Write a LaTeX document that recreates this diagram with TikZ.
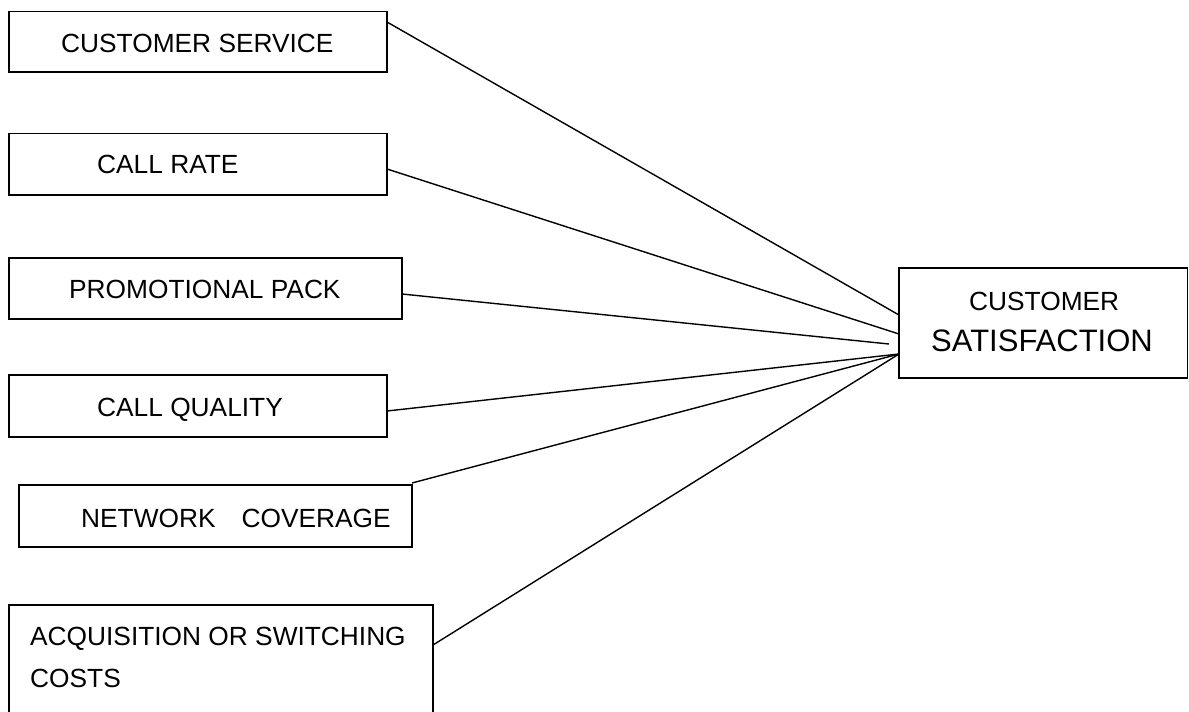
\documentclass[tikz,border=0pt]{standalone}
\usepackage{fontspec}
\setmainfont{Liberation Sans}
\begin{document}
\begin{tikzpicture}[x=1pt,y=-1pt,
  boxline/.style={draw=black,line width=1.7pt,inner sep=0pt},
  link/.style={draw=black,line width=1.4pt},
  lbl/.style={anchor=base west,inner sep=0pt,font=\fontsize{26.3}{30}\selectfont},
  biglbl/.style={anchor=base west,inner sep=0pt,font=\fontsize{31}{36}\selectfont}]
\useasboundingbox (0,0) rectangle (1189,712);
\clip (0,0) rectangle (1189,712);
% boxes
\node[boxline,minimum width=378pt,minimum height=60.5pt] (b1) at (198,41.75) {};
\node[boxline,minimum width=378pt,minimum height=61.5pt] (b2) at (198,164.25) {};
\node[boxline,minimum width=393pt,minimum height=61pt] (b3) at (205.5,288.5) {};
\node[boxline,minimum width=378pt,minimum height=62pt] (b4) at (198,406) {};
\node[boxline,minimum width=393pt,minimum height=62pt] (b5) at (215.5,516) {};
\node[boxline,minimum width=424pt,minimum height=115pt] (b6) at (221,662.5) {};
\node[boxline,minimum width=288.5pt,minimum height=110pt] (cs) at (1043.25,323) {};
% labels
\node[lbl] (t1) at (61,52) {CUSTOMER SERVICE};
\node[lbl] (t2) at (97,173) {CALL RATE};
\node[lbl] (t3) at (69,298) {PROMOTIONAL PACK};
\node[lbl] (t4) at (97,416) {CALL QUALITY};
\node[lbl] (t5) at (81,527) {NETWORK\hspace{26pt}COVERAGE};
\node[lbl] (t6a) at (30,645) {ACQUISITION OR SWITCHING};
\node[lbl] (t6b) at (30,687) {COSTS};
\node[lbl] (t7a) at (969,310) {CUSTOMER};
\node[biglbl] (t7b) at (931,351) {SATISFACTION};
% attachment points
\coordinate (s1) at (387,22);
\coordinate (s2) at (387,169);
\coordinate (s3) at (402,294);
\coordinate (s4) at (387,411);
\coordinate (s5) at (412,483);
\coordinate (s6) at (433,645);
\coordinate (e1) at (899,315);
\coordinate (e2) at (899,334);
\coordinate (e3) at (889,344);
\coordinate (e4) at (899,354);
% connectors
\draw[link] (s1) -- (e1);
\draw[link] (s2) -- (e2);
\draw[link] (s3) -- (e3);
\draw[link] (s4) -- (e4);
\draw[link] (s5) -- (e4);
\draw[link] (s6) -- (e4);
\end{tikzpicture}
\end{document}
